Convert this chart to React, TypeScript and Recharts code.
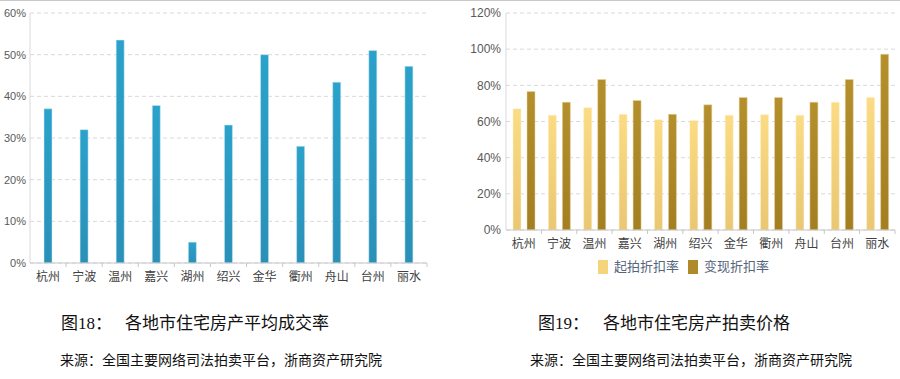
import { BarChart, Bar, XAxis, YAxis, CartesianGrid, Legend } from "recharts";

const cities = ["杭州", "宁波", "温州", "嘉兴", "湖州", "绍兴", "金华", "衢州", "舟山", "台州", "丽水"];
const dealRate = [37, 32, 53.5, 37.8, 5, 33.1, 50, 28, 43.4, 51, 47.2];
const startDiscount = [67, 63.5, 67.6, 64, 61, 60.6, 63.5, 63.7, 63.5, 70.7, 73.3];
const realizedDiscount = [76.6, 70.7, 83.2, 71.6, 64, 69.2, 73.3, 73.3, 70.7, 83.2, 97.2];
const leftTicks = [0, 10, 20, 30, 40, 50, 60];
const rightTicks = [0, 20, 40, 60, 80, 100, 120];
const seriesNames = ["起拍折扣率", "变现折扣率"];
const captions = ["图18：", "各地市住宅房产平均成交率", "图19：", "各地市住宅房产拍卖价格"];
const sourceText = "来源：全国主要网络司法拍卖平台，浙商资产研究院";

const leftData = cities.map((c, i) => ({ city: c, rate: dealRate[i] }));
const rightData = cities.map((c, i) => ({
  city: c,
  start: startDiscount[i],
  real: realizedDiscount[i],
}));

const numFont = '"Liberation Sans Narrow", "Liberation Sans", sans-serif';
const cjkFont = '"Noto Sans CJK SC", sans-serif';
const serifFont = '"Liberation Serif", "DejaVu Serif", "Noto Sans CJK SC", serif';

function CityTick(props: any) {
  const { x, y, payload, step } = props;
  return (
    <g>
      <line x1={x + step / 2} y1={y - 8} x2={x + step / 2} y2={y - 4} stroke="#c8c8c8" />
      <text x={x} y={y + 10} textAnchor="middle" fontSize={12} fill="#404040" fontFamily={cjkFont}>
        {payload.value}
      </text>
    </g>
  );
}

function RightLegend() {
  const items = [
    { name: seriesNames[0], color: "#f5d47c" },
    { name: seriesNames[1], color: "#ae8a2a" },
  ];
  return (
    <div style={{ display: "flex", justifyContent: "center", paddingLeft: 22, gap: 9 }}>
      {items.map((it) => (
        <div key={it.name} style={{ display: "flex", alignItems: "center" }}>
          <span style={{ width: 10, height: 14, background: it.color, display: "inline-block", marginRight: 6, marginTop: 3 }} />
          <span style={{ fontSize: 13, color: "#55657c", fontFamily: cjkFont }}>{it.name}</span>
        </div>
      ))}
    </div>
  );
}

export default function App() {
  return (
    <div style={{ position: "absolute", left: 0, top: 0, width: 900, height: 379, background: "#fff", overflow: "hidden" }}>
      <div style={{ position: "absolute", left: 0, top: 0, width: 900, height: 1, background: "#c8c8c8" }} />
      <div style={{ position: "absolute", left: 0, top: 0 }}>
        <BarChart width={440} height={300} data={leftData} margin={{ top: 13, right: 13, left: 0, bottom: 8 }}>
          <defs>
            <linearGradient id="blueGrad" x1="0" y1="0" x2="0" y2="1">
              <stop offset="0%" stopColor="#2aa2cb" />
              <stop offset="100%" stopColor="#2a90b8" />
            </linearGradient>
          </defs>
          <CartesianGrid strokeDasharray="4 3" stroke="#d9d9d9" vertical={false} />
          <XAxis
            dataKey="city"
            axisLine={{ stroke: "#c8c8c8" }}
            tickLine={false}
            interval={0}
            height={29}
            tick={<CityTick step={397 / 11} />}
          />
          <YAxis
            width={30}
            domain={[0, 60]}
            ticks={leftTicks}
            tickFormatter={(v: number) => `${v}%`}
            axisLine={{ stroke: "#d9d9d9" }}
            tickLine={false}
            tickSize={0}
            tickMargin={4}
            tick={{ fontSize: 11, fill: "#595959", fontFamily: numFont }}
          />
          <Bar dataKey="rate" fill="url(#blueGrad)" barSize={8} stroke="#cde8f2" strokeWidth={0.5} isAnimationActive={false} />
        </BarChart>
      </div>
      <div style={{ position: "absolute", left: 450, top: 0 }}>
        <BarChart width={450} height={290} data={rightData} margin={{ top: 13, right: 5, left: 0, bottom: 4 }} barGap={6}>
          <defs>
            <linearGradient id="lightGrad" x1="0" y1="0" x2="0" y2="1">
              <stop offset="0%" stopColor="#fbdb84" />
              <stop offset="100%" stopColor="#eac772" />
            </linearGradient>
            <linearGradient id="darkGrad" x1="0" y1="0" x2="0" y2="1">
              <stop offset="0%" stopColor="#b48f2c" />
              <stop offset="100%" stopColor="#a47f22" />
            </linearGradient>
          </defs>
          <CartesianGrid strokeDasharray="4 3" stroke="#d9d9d9" vertical={false} />
          <XAxis
            dataKey="city"
            axisLine={{ stroke: "#c8c8c8" }}
            tickLine={false}
            interval={0}
            height={26}
            tick={<CityTick step={389 / 11} />}
          />
          <YAxis
            width={56}
            domain={[0, 120]}
            ticks={rightTicks}
            tickFormatter={(v: number) => `${v}%`}
            axisLine={{ stroke: "#d9d9d9" }}
            tickLine={false}
            tickSize={0}
            tickMargin={5}
            tick={{ fontSize: 12, fill: "#595959", fontFamily: numFont }}
          />
          <Legend verticalAlign="bottom" height={30} content={<RightLegend />} />
          <Bar dataKey="start" name={seriesNames[0]} fill="url(#lightGrad)" barSize={8} stroke="#fdf0c8" strokeWidth={0.5} isAnimationActive={false} />
          <Bar dataKey="real" name={seriesNames[1]} fill="url(#darkGrad)" barSize={8} stroke="#e8d6a0" strokeWidth={0.5} isAnimationActive={false} />
        </BarChart>
      </div>
      <div style={{ position: "absolute", left: 61, top: 309, fontFamily: serifFont, fontSize: 17, color: "#111", whiteSpace: "nowrap" }}>
        {captions[0]}
        <span style={{ position: "absolute", left: 64 }}>{captions[1]}</span>
      </div>
      <div style={{ position: "absolute", left: 60, top: 349, fontFamily: serifFont, fontSize: 14, color: "#111", whiteSpace: "nowrap" }}>
        {sourceText}
      </div>
      <div style={{ position: "absolute", left: 538, top: 309, fontFamily: serifFont, fontSize: 17, color: "#111", whiteSpace: "nowrap" }}>
        {captions[2]}
        <span style={{ position: "absolute", left: 65 }}>{captions[3]}</span>
      </div>
      <div style={{ position: "absolute", left: 530, top: 349, fontFamily: serifFont, fontSize: 14, color: "#111", whiteSpace: "nowrap" }}>
        {sourceText}
      </div>
    </div>
  );
}
